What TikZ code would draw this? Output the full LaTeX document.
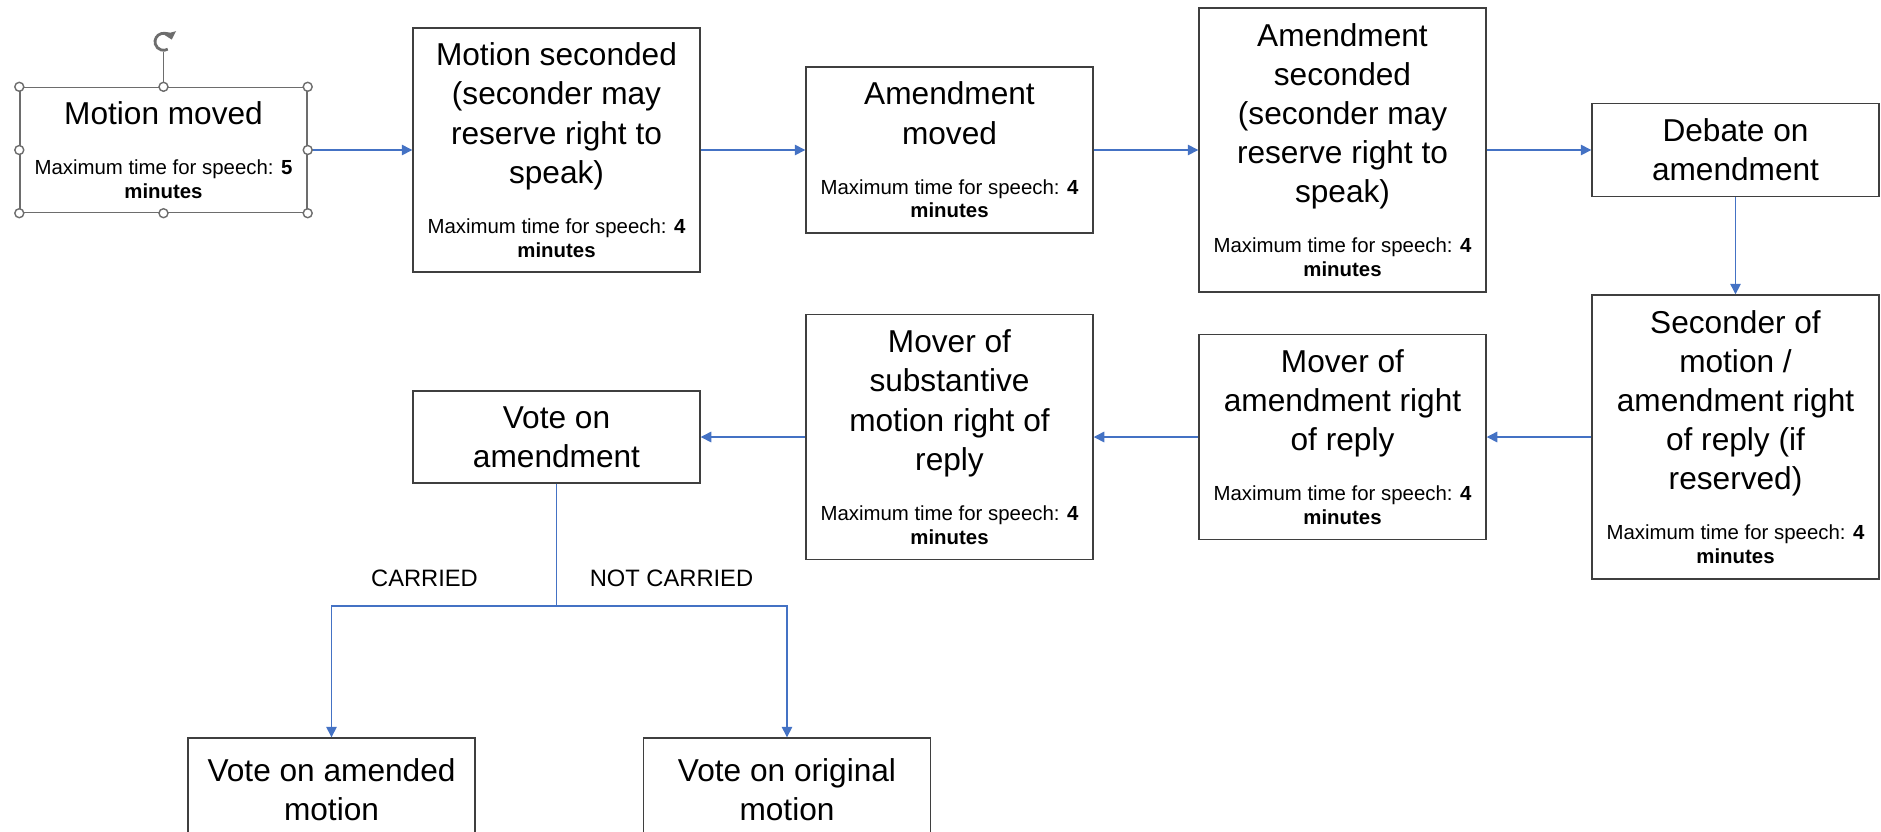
\documentclass[tikz,border=0pt]{standalone}
\usepackage{fontspec}
\setmainfont{Liberation Sans}
\usepackage{xcolor}
\usetikzlibrary{positioning}
\usetikzlibrary{arrows.meta}
\definecolor{flowblue}{HTML}{4472C4}
\definecolor{boxgray}{HTML}{3F3F3F}
\definecolor{selgray}{HTML}{6D6D6D}
\newcommand{\stepfont}{\fontsize{18pt}{22.3pt}\selectfont}
\newcommand{\timefont}{\fontsize{11.6pt}{13.5pt}\selectfont}
\newcommand{\resultfont}{\fontsize{13.5pt}{16pt}\selectfont}
% title lines, then the speaking time
\newcommand{\steptext}[2]{\parbox{5.4cm}{\centering\stepfont #1\par\vspace{15pt}%
  \timefont Maximum time for speech: \textbf{#2}\\ \textbf{minutes}\par}}

\begin{document}
\begin{tikzpicture}[>={Triangle[length=6pt,width=6pt]},node distance=7.86cm,on grid,
  stage/.style={rectangle,draw=boxgray,line width=0.8pt,minimum width=5.74cm,
    align=center,inner sep=2pt,font=\stepfont},
  flow/.style={color=flowblue,line width=0.8pt},
  handle/.style={circle,draw=selgray,fill=white,line width=0.8pt,minimum size=0.18cm,inner sep=0pt}]
  \clip (0,0) rectangle (37.62,-16.62);
  % top row
  \node[stage,draw=selgray,minimum height=2.5cm] (mm) at (3.27,-3.0) {\steptext{Motion moved}{5}};
  \node[stage,minimum height=4.88cm] (ms) [right=of mm] {\steptext{Motion seconded\\(seconder may\\reserve right to\\speak)}{4}};
  \node[stage,minimum height=3.32cm] (am) [right=of ms] {\steptext{Amendment\\moved}{4}};
  \node[stage,minimum height=5.68cm] (as) [right=of am] {\steptext{Amendment\\seconded\\(seconder may\\reserve right to\\speak)}{4}};
  \node[stage,minimum height=1.86cm] (deb) [right=of as] {Debate on\\amendment};
  % second row, right to left
  \node[stage,minimum height=5.68cm] (sec) [below=5.74cm of deb] {\steptext{Seconder of\\motion /\\amendment right\\of reply (if\\reserved)}{4}};
  \node[stage,minimum height=4.1cm] (mar) [left=of sec] {\steptext{Mover of\\amendment right\\of reply}{4}};
  \node[stage,minimum height=4.9cm] (msr) [left=of mar] {\steptext{Mover of\\substantive\\motion right of\\reply}{4}};
  \node[stage,minimum height=1.84cm] (voa) [left=of msr] {Vote on\\amendment};
  % outcome of the vote
  \coordinate[below=3.38cm of voa] (fork);
  \node[font=\resultfont] (carried) at ([xshift=-2.64cm,yshift=0.56cm]fork) {CARRIED};
  \node[font=\resultfont] (notcarried) at ([xshift=2.3cm,yshift=0.56cm]fork) {NOT CARRIED};
  \node[stage,minimum height=2.08cm] (vam) [below left=7.06cm and 4.5cm of voa] {Vote on amended\\motion};
  \node[stage,minimum height=2.08cm] (vom) [below right=7.06cm and 4.61cm of voa] {Vote on original\\motion};
  \draw[flow,->] (mm) edge (ms);
  \draw[flow,->] (ms) edge (am);
  \draw[flow,->] (am) edge (as);
  \draw[flow,->] (as) edge (deb);
  \draw[flow,->] (deb) edge (sec);
  \draw[flow,->] (sec) edge (mar);
  \draw[flow,->] (mar) edge (msr);
  \draw[flow,->] (msr) edge (voa);
  \draw[flow] (voa.south) -- (fork);
  \draw[flow,->] (fork) -| (vam.north);
  \draw[flow,->] (fork) -| (vom.north);
  % selection handles of the first box
  \coordinate (rot) at ([yshift=0.9cm]mm.north);
  \draw[selgray,line width=0.8pt] (mm.north) -- ([yshift=-0.2cm]rot);
  \draw[selgray,line width=1.6pt,{Triangle[length=4pt,width=7pt]}-] (rot) ++(15:0.17) arc[start angle=15,end angle=300,radius=0.17];
  \foreach \a in {north west,north,north east,east,south east,south,south west,west}
    \node[handle] (h-\a) at (mm.\a) {};
\end{tikzpicture}
\end{document}
